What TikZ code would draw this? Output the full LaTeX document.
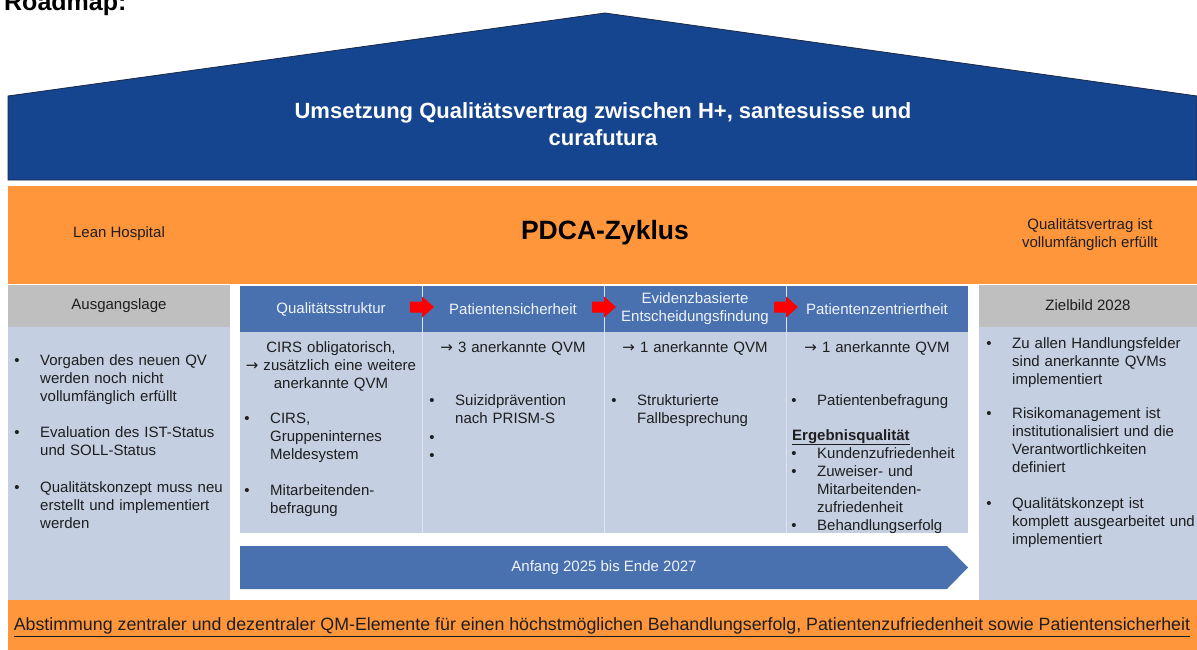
\documentclass[tikz,border=0pt]{standalone}
\usepackage{fontspec}
\setmainfont{Liberation Sans}
\newfontfamily\arrowfont{DejaVu Sans}
\usetikzlibrary{shapes.arrows}

\definecolor{roofblue}{RGB}{22,69,143}
\definecolor{roofline}{RGB}{25,40,70}
\definecolor{bandorange}{RGB}{255,150,60}
\definecolor{headgray}{RGB}{191,191,191}
\definecolor{paleblue}{RGB}{196,207,226}
\definecolor{midblue}{RGB}{73,113,175}
\definecolor{textgray}{RGB}{30,30,30}

\newcommand{\bodyfont}{\fontsize{15}{18}\selectfont}
\newcommand{\itm}{\makebox[0pt][r]{\textbullet\hspace{20.5pt}}}
\newcommand{\ra}{{\arrowfont →}}

\tikzset{
  headbox/.style={inner sep=0pt, minimum height=46pt, minimum width=182pt, fill=midblue, text=white!92!midblue, font=\bodyfont, align=center},
  sidehead/.style={inner sep=0pt, minimum height=42pt, fill=headgray, text=textgray, font=\bodyfont},
  txt/.style={anchor=base west, inner sep=0pt, text width=#1, align=left, font=\bodyfont, text=textgray},
  txt/.default=185pt,
  ctxt/.style={anchor=base, inner sep=0pt, text width=182pt, align=center, font=\bodyfont, text=textgray},
  divider/.style={draw=white!45!paleblue, line width=1pt},
}

\begin{document}
\begin{tikzpicture}[x=1pt,y=-1pt]
\useasboundingbox (0,0) rectangle (1197,650);
\fill[white] (0,0) rectangle (1197,650);

\node[anchor=base west, inner sep=0pt, font=\fontsize{25}{30}\selectfont\bfseries] (title) at (4,11) {Roadmap:};

% roof
\draw[fill=roofblue, draw=roofline, line width=0.8pt] (8,180) -- (8,96) -- (605,13) -- (1197,96) -- (1197,180) -- cycle;
\node[font=\fontsize{22}{27}\selectfont\bfseries, text=white, align=center] (roof) at (603,124) {Umsetzung Qualitätsvertrag zwischen H+, santesuisse und\\curafutura};

% orange band
\fill[bandorange] (8,186) rectangle (1197,284);
\node[font=\bodyfont, text=textgray] (lean) at (119,234) {Lean Hospital};
\node[font=\fontsize{26.5}{30}\selectfont\bfseries] (pdca) at (605,233) {PDCA-Zyklus};
\node[font=\bodyfont, text=textgray, align=center] (erfuellt) at (1090,235) {Qualitätsvertrag ist\\vollumfänglich erfüllt};

% left column
\fill[paleblue] (8,327) rectangle (230,600);
\node[sidehead, minimum width=222pt] (ausg) at (119,306) {Ausgangslage};
\node[txt] (ist1) at (40,365) {\itm Vorgaben des neuen QV\\werden noch nicht\\vollumfänglich erfüllt};
\node[txt] (ist2) at (40,437) {\itm Evaluation des IST-Status\\und SOLL-Status};
\node[txt] (ist3) at (40,492) {\itm Qualitätskonzept muss neu\\erstellt und implementiert\\werden};

% middle columns
\fill[paleblue] (240,332) rectangle (968,533);
\node[headbox] (hq) at (331,309) {Qualitätsstruktur};
\node[headbox] (hs) at (513,309) {Patientensicherheit};
\node[headbox] (he) at (695,309) {Evidenzbasierte\\Entscheidungsfindung};
\node[headbox] (hz) at (877,309) {Patientenzentriertheit};
\foreach \x in {422,604,786}
  \draw[divider] (\x,286) -- (\x,533);
\foreach \x in {422,604,786}
  \fill[red] (\x-12,301.5) -- (\x,301.5) -- (\x,296.5) -- (\x+12,307) -- (\x,317.5) -- (\x,312.5) -- (\x-12,312.5) -- cycle;

\node[ctxt] (q0) at (331,352) {CIRS obligatorisch,\\\ra\ zusätzlich eine weitere\\anerkannte QVM};
\node[txt=150pt] (q1) at (270,423) {\itm CIRS,\\Gruppeninternes\\Meldesystem};
\node[txt=150pt] (q2) at (270,495) {\itm Mitarbeitenden-\\befragung};

\node[ctxt] (s0) at (513,352) {\ra\ 3 anerkannte QVM};
\node[txt=140pt] (s1) at (455,405) {\itm Suizidprävention\\nach PRISM-S};
\node[txt=140pt] (s2) at (455,442) {\itm\strut\\\itm\strut};

\node[ctxt] (e0) at (695,352) {\ra\ 1 anerkannte QVM};
\node[txt=140pt] (e1) at (637,405) {\itm Strukturierte\\Fallbesprechung};

\node[ctxt] (z0) at (877,352) {\ra\ 1 anerkannte QVM};
\node[txt=145pt] (z1) at (817,405) {\itm Patientenbefragung};
\node[txt=170pt] (erg) at (792,440) {\underline{\textbf{Ergebnisqualität}}};
\node[txt=145pt] (z2) at (817,458) {\itm Kundenzufriedenheit\\\itm Zuweiser- und\\Mitarbeitenden-\\zufriedenheit\\\itm Behandlungserfolg};

% time line
\fill[midblue] (240,546) -- (947,546) -- (968,567.5) -- (947,589) -- (240,589) -- cycle;
\node[font=\bodyfont, text=white!92!midblue] (plan) at (604,567.5) {Anfang 2025 bis Ende 2027};

% right column
\fill[paleblue] (979,326) rectangle (1197,600);
\node[sidehead, minimum width=218pt] (zb) at (1088,305.5) {Zielbild 2028};
\node[txt] (soll1) at (1012,348) {\itm Zu allen Handlungsfelder\\sind anerkannte QVMs\\implementiert};
\node[txt] (soll2) at (1012,418) {\itm Risikomanagement ist\\institutionalisiert und die\\Verantwortlichkeiten\\definiert};
\node[txt] (soll3) at (1012,508) {\itm Qualitätskonzept ist\\komplett ausgearbeitet und\\implementiert};

% bottom band
\fill[bandorange] (8,600) rectangle (1197,650);
\node[font=\fontsize{17.8}{21}\selectfont, text=textgray] (abst) at (602,627) {\underline{Abstimmung zentraler und dezentraler QM-Elemente für einen höchstmöglichen Behandlungserfolg, Patientenzufriedenheit sowie Patientensicherheit}};
\end{tikzpicture}
\end{document}
